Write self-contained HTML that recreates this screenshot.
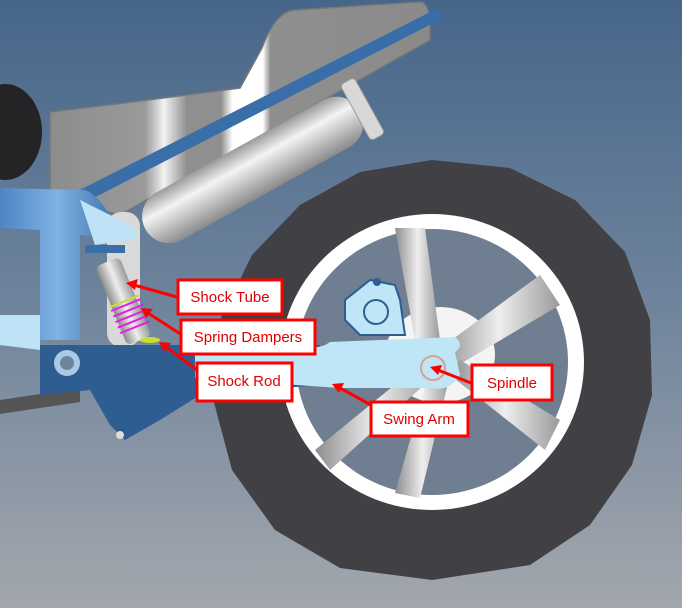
<!DOCTYPE html>
<html><head><style>
html,body{margin:0;padding:0;width:682px;height:608px;overflow:hidden}
svg{display:block}
.lb{fill:#fff;stroke:#f00;stroke-width:3}
.lt{font-family:"Liberation Sans",sans-serif;font-size:15px;fill:#e00000}
</style></head><body>
<svg width="682" height="608" viewBox="0 0 682 608" xmlns="http://www.w3.org/2000/svg">
<defs>
<linearGradient id="bg" x1="0" y1="0" x2="0" y2="1">
<stop offset="0" stop-color="#46668a"/><stop offset="0.5" stop-color="#6f849c"/><stop offset="1" stop-color="#a3a7ad"/>
</linearGradient>
<linearGradient id="cyl" x1="0" y1="0" x2="0" y2="1">
<stop offset="0" stop-color="#9a9a9a"/><stop offset="0.35" stop-color="#f4f4f4"/><stop offset="1" stop-color="#8a8a8a"/>
</linearGradient>
<linearGradient id="spk" x1="0" y1="0" x2="1" y2="0">
<stop offset="0" stop-color="#8d8d8d"/><stop offset="0.5" stop-color="#eeeeee"/><stop offset="1" stop-color="#9a9a9a"/>
</linearGradient>
<linearGradient id="blu" x1="0" y1="0" x2="1" y2="0">
<stop offset="0" stop-color="#4d86c4"/><stop offset="0.5" stop-color="#7fb1e3"/><stop offset="1" stop-color="#3f74ad"/>
</linearGradient>
<linearGradient id="seat" x1="0" y1="0" x2="1" y2="0">
<stop offset="0" stop-color="#8c8c8c"/><stop offset="0.25" stop-color="#9a9a9a"/><stop offset="0.3" stop-color="#f2f2f2"/><stop offset="0.36" stop-color="#8f8f8f"/><stop offset="0.45" stop-color="#8f8f8f"/><stop offset="0.48" stop-color="#ffffff"/><stop offset="0.56" stop-color="#ffffff"/><stop offset="0.58" stop-color="#8f8f8f"/><stop offset="1" stop-color="#8a8a8a"/>
</linearGradient>
</defs>
<rect width="682" height="608" fill="url(#bg)"/>
<!-- seat body -->
<path d="M50 112 Q150 100 240 88 L262 48 Q275 12 295 10 L420 2 Q430 2 430 30 L430 40 L120 215 L50 198 Z" fill="url(#seat)" stroke="#777" stroke-width="1.5"/>
<!-- black seat -->
<ellipse cx="5" cy="132" rx="37" ry="48" fill="#242426"/>
<!-- blue tube -->
<path d="M70 195 L438 8 L443 18 L80 205 Z" fill="#3a6ea8"/>
<!-- tire -->
<polygon points="432,160 510,168 575,200 625,252 650,320 652,395 632,465 590,525 530,565 432,580 340,568 275,530 232,470 212,395 220,320 252,255 300,205 360,172" fill="#414044"/>
<!-- rim -->
<ellipse cx="432" cy="362" rx="152" ry="148" fill="#fff"/>
<ellipse cx="432" cy="362" rx="136" ry="133" fill="#6f7e90"/>
<ellipse cx="440" cy="355" rx="55" ry="48" fill="#f4f4f4"/>
<!-- spokes -->
<g fill="url(#spk)">
<polygon points="395,228 425,228 440,340 415,340" />
<polygon points="540,275 560,305 450,370 438,350"/>
<polygon points="560,420 545,450 450,375 460,360"/>
<polygon points="430,370 450,375 420,498 395,493"/>
<polygon points="425,360 435,375 330,470 315,450"/>
</g>
<!-- exhaust -->
<g transform="rotate(-29 250 160)">
<rect x="125" y="143" width="245" height="54" rx="27" fill="url(#cyl)"/>
<rect x="365" y="138" width="16" height="64" rx="4" fill="#d8d8d8" stroke="#999"/>
</g>
<!-- rear frame pale grey shock mount -->
<rect x="107" y="212" width="33" height="135" rx="14" fill="#d9d9d9"/>
<!-- left frame -->
<path d="M0 188 L85 190 Q100 195 115 225 L115 240 L80 235 L80 340 L40 340 L40 230 L0 228 Z" fill="url(#blu)"/>
<path d="M80 200 L130 225 Q140 232 135 240 L95 245 Z" fill="#bfe3f6"/>
<path d="M0 315 L40 315 L40 350 L0 345 Z" fill="#bfe3f6"/>
<rect x="85" y="245" width="40" height="8" fill="#3a6ea8"/>
<!-- gray rod bottom left -->
<path d="M0 400 L80 388 L80 402 L0 414 Z" fill="#555"/>
<!-- shock -->
<g transform="rotate(-22 125 300)">
<rect x="110" y="258" width="26" height="85" rx="5" fill="url(#spk)"/>
<g stroke="#e020e0" stroke-width="2" fill="none">
<line x1="108" y1="305" x2="140" y2="305"/><line x1="108" y1="311" x2="140" y2="311"/><line x1="108" y1="317" x2="140" y2="317"/><line x1="108" y1="323" x2="140" y2="323"/><line x1="108" y1="329" x2="140" y2="329"/>
</g>
<line x1="108" y1="301" x2="140" y2="301" stroke="#c8e030" stroke-width="2"/>
</g>
<ellipse cx="150" cy="340" rx="10" ry="3" fill="#c8e030"/>
<!-- swing arm bracket (dark) -->
<path d="M40 345 L320 345 L320 385 L200 395 L160 420 L125 440 L110 425 L90 390 L40 395 Z" fill="#2e5d91"/>
<circle cx="67" cy="363" r="13" fill="#a9c9e6"/><circle cx="67" cy="363" r="7" fill="#6f849c"/>
<circle cx="120" cy="435" r="4" fill="#ddd"/>
<!-- swing arm -->
<path d="M195 346 L300 346 Q320 350 330 342 L455 337 Q465 345 455 352 L460 375 Q450 392 430 388 L340 388 L195 378 Z" fill="#bfe6f7"/>
<circle cx="433" cy="368" r="12" fill="#bfe6f7" stroke="#d9a090" stroke-width="2"/>
<!-- caliper -->
<path d="M345 300 L370 280 L395 285 L400 300 L405 335 L360 335 L345 320 Z" fill="#bfe6f7" stroke="#2e5d91" stroke-width="2"/>
<circle cx="376" cy="312" r="12" fill="#bfe6f7" stroke="#2e5d91" stroke-width="2"/>
<circle cx="377" cy="282" r="4" fill="#2e5d91"/>
<!-- arrows -->
<g stroke="#f00" stroke-width="3" fill="#f00">
<line x1="177" y1="297" x2="134" y2="285"/><polygon points="126,283 138,279 135,290" stroke="none"/>
<line x1="182" y1="335" x2="148" y2="313"/><polygon points="141,308 153,309 146,318" stroke="none"/>
<line x1="197" y1="370" x2="166" y2="347"/><polygon points="159,342 171,343 164,352" stroke="none"/>
<line x1="471" y1="383" x2="438" y2="370"/><polygon points="430,367 442,365 438,375" stroke="none"/>
<line x1="371" y1="405" x2="340" y2="388"/><polygon points="332,384 344,383 339,393" stroke="none"/>
</g>
<!-- labels -->
<rect class="lb" x="178" y="280" width="104" height="34"/><text class="lt" x="230" y="302" text-anchor="middle">Shock Tube</text>
<rect class="lb" x="181" y="320" width="134" height="34"/><text class="lt" x="248" y="342" text-anchor="middle">Spring Dampers</text>
<rect class="lb" x="197" y="363" width="95" height="38"/><text class="lt" x="244" y="386" text-anchor="middle">Shock Rod</text>
<rect class="lb" x="472" y="365" width="80" height="35"/><text class="lt" x="512" y="388" text-anchor="middle">Spindle</text>
<rect class="lb" x="371" y="402" width="97" height="34"/><text class="lt" x="419" y="424" text-anchor="middle">Swing Arm</text>
</svg>
</body></html>
